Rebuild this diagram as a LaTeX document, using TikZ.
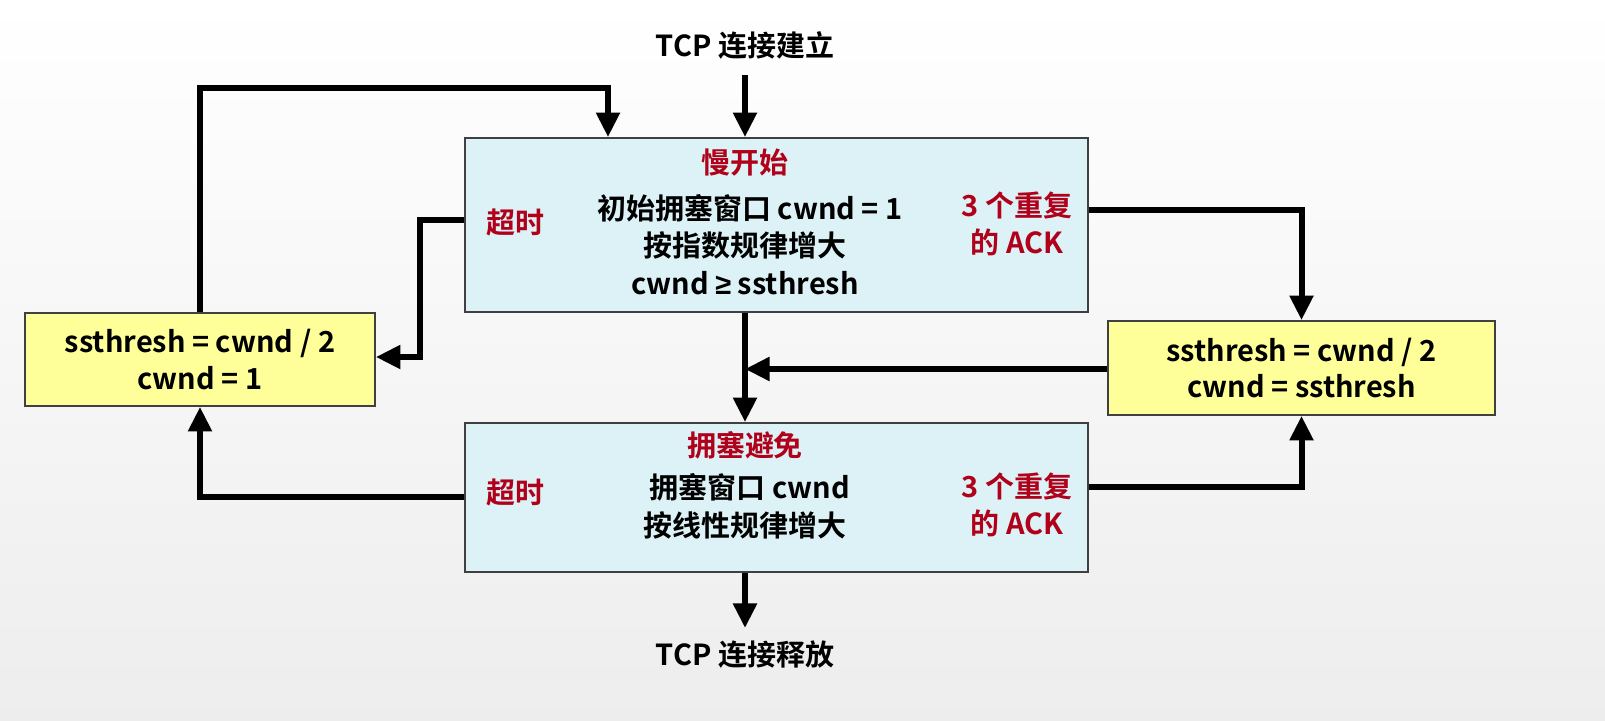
\documentclass[tikz,border=0pt]{standalone}
\usepackage{fontspec}
\setmainfont{Liberation Sans}
\newfontfamily\cjk{Noto Sans CJK SC}[BoldFont={Noto Sans CJK SC Bold}]
\usetikzlibrary{arrows.meta}
\definecolor{boxblue}{HTML}{DCF2F6}
\definecolor{boxyellow}{HTML}{FFFF99}
\definecolor{darkred}{HTML}{B0001A}
\begin{document}
\begin{tikzpicture}[x=0.02cm,y=-0.02cm,
  txt/.style={font=\cjk\bfseries\fontsize{16.5}{19}\selectfont,inner sep=0pt},
  red/.style={txt,text=darkred},
  box/.style={draw=black!75,line width=1pt},
  arr/.style={line width=3.4pt,-{Triangle[length=14pt,width=13pt]}}]
\shade[top color=white,bottom color=black!7] (0,0) rectangle (1605,720);
\node[box,fill=boxblue,minimum width=623*0.02cm,minimum height=174*0.02cm] (ss) at (776.5,225) {};
\node[box,fill=boxblue,minimum width=623*0.02cm,minimum height=149*0.02cm] (ca) at (776.5,497.5) {};
\node[box,fill=boxyellow,minimum width=350*0.02cm,minimum height=93*0.02cm] (L) at (200,359.5) {};
\node[box,fill=boxyellow,minimum width=387*0.02cm,minimum height=94*0.02cm] (R) at (1301.5,368) {};
\node[txt] (tin) at (745,45) {TCP 连接建立};
\node[txt] (tout) at (745,655) {TCP 连接释放};
\node[red] (t1) at (745,163) {慢开始};
\node[txt] (l1) at (750,208) {初始拥塞窗口 cwnd = 1};
\node[txt] (l2) at (745,245) {按指数规律增大};
\node[txt] (l3) at (745,283) {cwnd {\rmfamily\bfseries ≥} ssthresh};
\node[red] (to1) at (515,222) {超时};
\node[red,align=center] (d1) at (1017,224) {3 个重复\\[2pt]的 ACK};
\node[red] (t2) at (745,445) {拥塞避免};
\node[txt] (m1) at (750,487) {拥塞窗口 cwnd};
\node[txt] (m2) at (745,525) {按线性规律增大};
\node[red] (to2) at (515,492) {超时};
\node[red,align=center] (d2) at (1017,505) {3 个重复\\[2pt]的 ACK};
\node[txt,align=center] (lt) at (200,359.5) {ssthresh = cwnd / 2\\[2pt]cwnd = 1};
\node[txt,align=center] (rt) at (1301.5,368) {ssthresh = cwnd / 2\\[2pt]cwnd = ssthresh};
\coordinate (mid) at (745,369);
\draw[arr] (745,75) -- (ss.north -| 745,0);
\draw[arr] (ca.south -| 745,0) -- (745,628);
\draw[arr] (ss.west |- 0,220) -| (420,357) -- (L.east |- 0,357);
\draw[arr] (L.north) |- (608,88) -- (ss.north -| 608,0);
\draw[arr] (ca.west |- 0,497) -| (L.south);
\draw[arr] (ss.east |- 0,210) -| (R.north);
\draw[arr] (ca.east |- 0,487) -| (R.south);
\draw[arr] (ss.south -| 745,0) -- (ca.north -| 745,0);
\draw[arr] (R.west |- 0,369) -- (mid);
\pgfresetboundingbox
\useasboundingbox (0,0) rectangle (1605,720);
\end{tikzpicture}
\end{document}
